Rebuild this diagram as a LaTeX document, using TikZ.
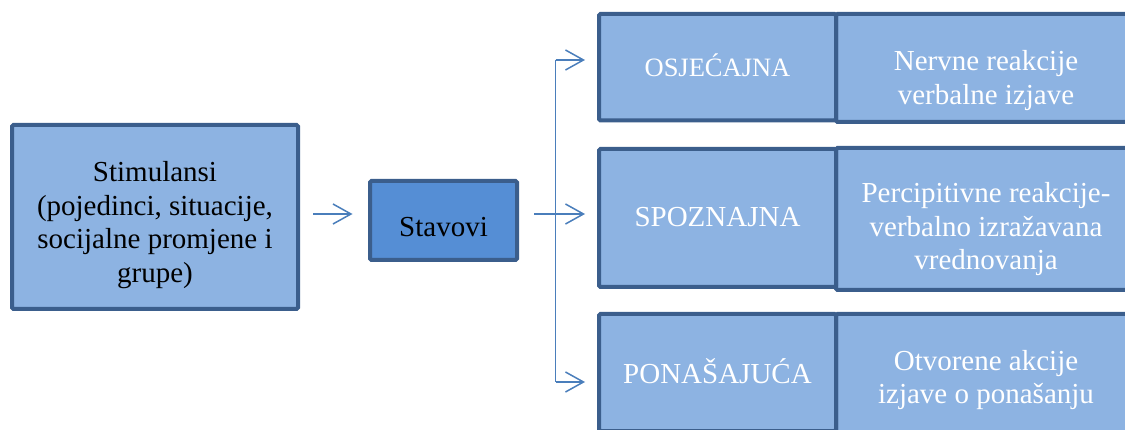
\documentclass[tikz,border=0pt]{standalone}
\usepackage{fontspec}
\setmainfont{Liberation Serif}
\usetikzlibrary{arrows.meta}
\definecolor{bordc}{HTML}{3B5E8C}
\definecolor{boxfill}{HTML}{8DB3E2}
\definecolor{stavfill}{HTML}{558ED5}
\definecolor{arrc}{HTML}{4A7EBB}
\begin{document}
\begin{tikzpicture}[x=1pt,y=-1pt,
  box/.style={draw=bordc, line width=4pt, fill=boxfill, rounded corners=1.5pt, inner sep=0pt},
  txt/.style={align=center, inner sep=0pt, font=\fontsize{29}{33.5}\selectfont},
  wtxt/.style={txt, text=white},
  arr/.style={draw=arrc, line width=1.5pt, -{Straight Barb[length=18pt,width=20pt]}},
  plainline/.style={draw=arrc, line width=1.5pt}]
\useasboundingbox (0,0) rectangle (1125,430);
\clip (0,0) rectangle (1125,430);
% left part
\node[box, minimum width=286pt, minimum height=184pt] (stim) at (155,217) {};
\node[txt] (stimt) at (155,225) {Stimulansi\\(pojedinci, situacije,\\socijalne promjene i\\grupe)};
\node[box, fill=stavfill, minimum width=147pt, minimum height=79pt] (stav) at (443.5,220.5) {};
\node[txt] (stavt) at (443.5,227.5) {Stavovi};
% right column: right boxes first
\node[box, minimum width=304pt, minimum height=108pt] (osjR) at (988,68) {};
\node[box, minimum width=304pt, minimum height=142pt] (spozR) at (988,219) {};
\node[box, minimum width=304pt, minimum height=122pt] (ponR) at (988,375) {};
\node[box, minimum width=237pt, minimum height=106.5pt] (osj) at (717.5,67.25) {};
\node[box, minimum width=237pt, minimum height=138pt] (spoz) at (717.5,218) {};
\node[box, minimum width=237pt, minimum height=117pt] (pon) at (717.5,372.5) {};
% labels
\node[wtxt, font=\fontsize{26.5}{30}\selectfont] (osjt) at (717.5,65) {OSJEĆAJNA};
\node[wtxt] (spozt) at (717.5,217) {SPOZNAJNA};
\node[wtxt] (pont) at (717.5,371) {PONAŠAJUĆA};
\node[wtxt] (osjRt) at (986,80.5) {Nervne reakcije\\verbalne izjave};
\node[wtxt] (spozRt) at (986,229.5) {Percipitivne reakcije-\\verbalno izražavana\\vrednovanja};
\node[wtxt] (ponRt) at (986,380) {Otvorene akcije\\izjave o ponašanju};
% connectors
\coordinate (split) at (555.5,214);
\coordinate (top) at (555.5,60);
\coordinate (bot) at (555.5,382);
\draw[arr, shorten <=13pt, shorten >=15.5pt] (stim.east |- split) -- (stav.west |- split);
\draw[arr, shorten <=15pt, shorten >=12pt] (stav.east |- split) -- (spoz.west |- split);
\draw[plainline] (top) -- (bot);
\draw[arr, shorten >=12pt] (top) -- (osj.west |- top);
\draw[arr, shorten >=12pt] (bot) -- (pon.west |- bot);
\end{tikzpicture}
\end{document}
